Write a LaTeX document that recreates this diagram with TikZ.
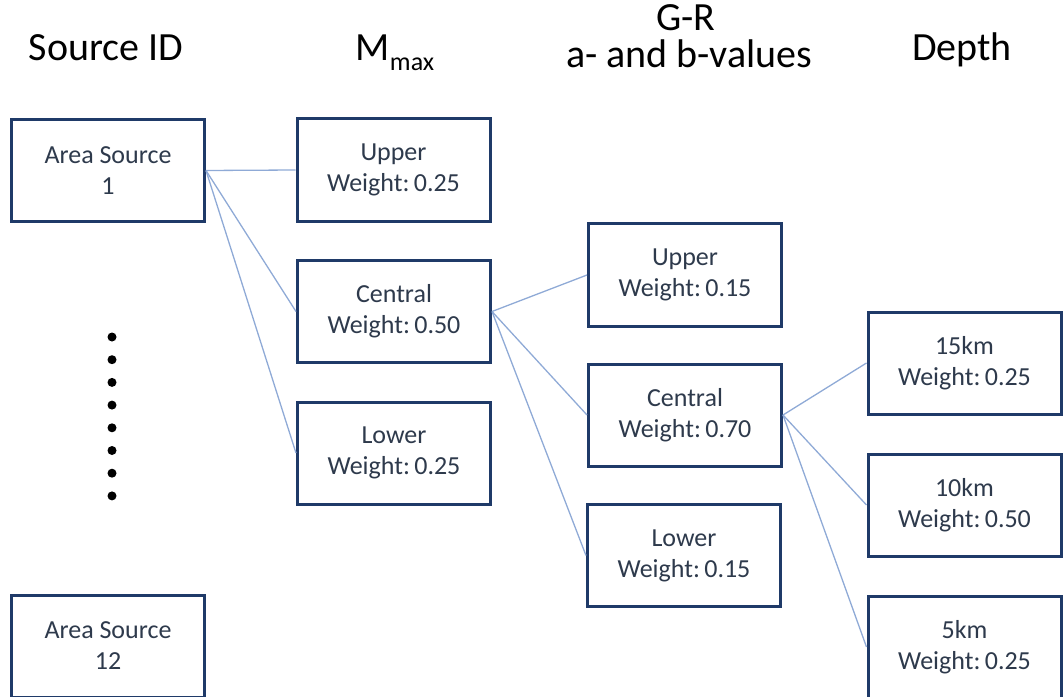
\documentclass[tikz,border=0pt]{standalone}
\usepackage{fontspec}
\setmainfont{Carlito}
\definecolor{boxline}{HTML}{1F3A68}
\definecolor{boxtext}{HTML}{2E3A4C}
\definecolor{link}{HTML}{8FAAD6}
\tikzset{
  box/.style={draw=boxline, line width=3bp, rectangle, fill=white,
    minimum width=193bp, minimum height=102bp, inner sep=0pt,
    align=center, text=boxtext, font=\fontsize{26bp}{31bp}\selectfont},
  head/.style={align=center, text=black, font=\fontsize{40bp}{37bp}\selectfont, inner sep=0pt},
  conn/.style={draw=link, line width=1.3bp},
  dotmark/.style={circle, fill=black, minimum size=9bp, inner sep=0pt}
}
\begin{document}
\begin{tikzpicture}[x=1bp,y=-1bp]
\useasboundingbox (0,0) rectangle (1063,697);
% headers
\node[head, anchor=base] (hsrc) at (106,61) {Source ID};
\node[head, anchor=base] (hmax) at (395,61) {M\raisebox{-10bp}{\fontsize{26bp}{26bp}\selectfont max}};
\node[head, anchor=base] (hgr1) at (686,31) {G-R};
\node[head, anchor=base] (hgr2) at (689,68) {a- and b-values};
\node[head, anchor=base] (hdep) at (962,61) {Depth};
% source boxes
\node[box] (s1) at (108,170.5) {Area Source\\1};
\node[box] (s12) at (108,646) {Area Source\\12};
% dots
\foreach \i in {0,...,7} {
  \node[dotmark] (d\i) at (112,{337+22.7*\i}) {};
}
% Mmax boxes
\node[box] (mu) at (393.5,170) {Upper\\Weight:\,0.25};
\node[box] (mc) at (394,311.5) {Central\\Weight:\,0.50};
\node[box] (ml) at (394,453) {Lower\\Weight:\,0.25};
% G-R boxes
\node[box] (gu) at (685,275) {Upper\\Weight:\,0.15};
\node[box] (gc) at (685,415) {Central\\Weight:\,0.70};
\node[box] (gl) at (684,555.5) {Lower\\Weight:\,0.15};
% Depth boxes
\node[box] (d15) at (964.5,363) {15km\\Weight:\,0.25};
\node[box] (d10) at (964.5,505) {10km\\Weight:\,0.50};
\node[box] (d5) at (964.5,647) {5km\\Weight:\,0.25};
% connectors
\begin{scope}[on background layer/.style={}]
\draw[conn] (s1.east) -- (mu.west);
\draw[conn] (s1.east) -- (mc.west);
\draw[conn] (s1.east) -- (ml.west);
\draw[conn] (mc.east) -- (gu.west);
\draw[conn] (mc.east) -- (gc.west);
\draw[conn] (mc.east) -- (gl.west);
\draw[conn] (gc.east) -- (d15.west);
\draw[conn] (gc.east) -- (d10.west);
\draw[conn] (gc.east) -- (d5.west);
\end{scope}
\end{tikzpicture}
\end{document}
